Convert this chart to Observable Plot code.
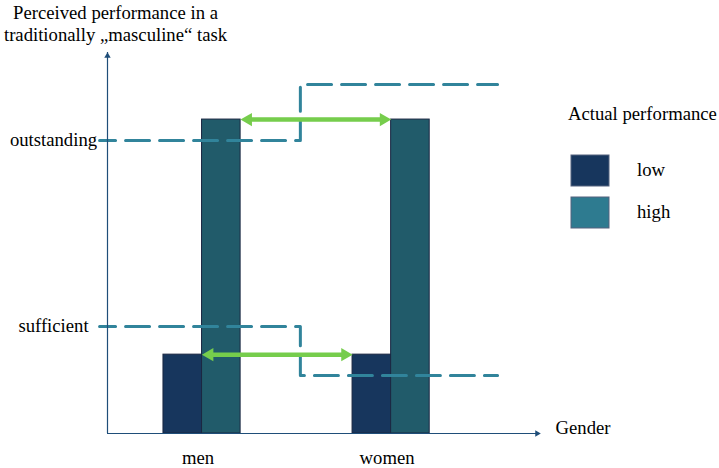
<!DOCTYPE html>
<html>
<head>
<meta charset="utf-8">
<script src="https://cdn.jsdelivr.net/npm/d3@7"></script>
<script src="https://cdn.jsdelivr.net/npm/@observablehq/plot@0.6"></script>
<style>
  body { margin: 0; background: #fff; }
  #chart { width: 719px; height: 468px; }
</style>
</head>
<body>
<div id="chart"></div>
<script>
// Groups on the x axis and actual performance levels
const genders = ["men", "women"];
const levels = ["low", "high"];
// Perceived performance of low / high actual performers (0–100 scale)
const barValues = [20.7, 82.4];
// Category labels on the y axis and the threshold each gender must reach
const thresholdNames = ["outstanding", "sufficient"];
const thresholdsMen = [76.9, 28.1];
const thresholdsWomen = [91.6, 15.2];
// Fills
const barColors = ["#17365d", "#215b6a"];
const legendColors = ["#17365d", "#2e7b90"];

const yTitle = "Perceived performance in a\ntraditionally \u201Emasculine\u201C task";
const xTitle = "Gender";
const legendTitle = "Actual performance";

const FONT = "'Liberation Serif', 'Times New Roman', serif";
const FS = 18.7;
const AXIS = "#1f4e79";
const DASH = "#31849b";
const GREEN = "#76cd4c";

// layout in x-scale units: gender i sits at i + 1
const xMin = 0.5, xMax = 2.79;
const barW = 0.204;
const stepX = 1.52, lineStart = 0.458, lineEnd = 2.563;

const bars = genders.flatMap((g, gi) =>
  levels.map((lv, li) => ({
    gender: g, level: lv,
    x1: gi + 1 - barW + li * barW,
    x2: gi + 1 + li * barW,
    value: barValues[li],
    color: barColors[li]
  }))
);

const thresholdLines = thresholdNames.flatMap((name, k) => [
  {name, x: lineStart, y: thresholdsMen[k]},
  {name, x: stepX, y: thresholdsMen[k]},
  {name, x: stepX, y: thresholdsWomen[k]},
  {name, x: lineEnd, y: thresholdsWomen[k]}
]);

// Double-headed arrows comparing men and women at the same actual level
const arrows = [
  {x1: 1 + barW, x2: 2, y: barValues[1]},
  {x1: 1, x2: 2 - barW, y: barValues[0]}
];

const tri = 7.5; // distance from triangle centre to tip (px)

const chart = Plot.plot({
  width: 719,
  height: 468,
  marginLeft: 107,
  marginRight: 179,
  marginTop: 52,
  marginBottom: 35,
  x: {domain: [xMin, xMax], axis: null},
  y: {domain: [0, 100], axis: null},
  style: {fontFamily: FONT, fontSize: FS + "px", color: "#000", background: "#fff", overflow: "visible"},
  marks: [
    Plot.rect(bars, {x1: "x1", x2: "x2", y1: 0, y2: "value", fill: "color", stroke: "#1b2742", strokeWidth: 1}),
    Plot.line(thresholdLines, {x: "x", y: "y", z: "name", stroke: DASH, strokeWidth: 3, strokeDasharray: "24,10", strokeDashoffset: 8, curve: "linear"}),
    // axes with arrow tips
    Plot.ruleX([xMin], {y1: 0, y2: 100, stroke: AXIS, strokeWidth: 1.2}),
    Plot.ruleY([0], {x1: xMin, x2: xMax, stroke: AXIS, strokeWidth: 1.2}),
    Plot.dot([xMin], {x: d => d, y: 100, symbol: "triangle", r: 2.4, fill: AXIS, dy: 3.4}),
    Plot.dot([xMax], {x: d => d, y: 0, symbol: "triangle", r: 2.4, fill: AXIS, rotate: 90, dx: -3.4}),
    // green comparison arrows
    Plot.arrow(arrows, {x1: "x1", x2: "x2", y1: "y", y2: "y", stroke: GREEN, strokeWidth: 4.5, headLength: 0, insetStart: 9, insetEnd: 9}),
    Plot.dot(arrows, {x: "x2", y: "y", symbol: "triangle", r: 4.9, fill: GREEN, rotate: 90, dx: -tri}),
    Plot.dot(arrows, {x: "x1", y: "y", symbol: "triangle", r: 4.9, fill: GREEN, rotate: -90, dx: tri}),
    // y category labels
    Plot.text(thresholdNames, {x: xMin, y: (d, i) => thresholdsMen[i], text: d => d, dx: -54, textAnchor: "middle", fontSize: FS, fill: "#000"}),
    // gender labels
    Plot.text(genders, {x: (d, i) => i + 1, y: 0, text: d => d, dy: 25, dx: -4, fontSize: FS, fill: "#000"}),
    // axis titles
    Plot.text([xTitle], {frameAnchor: "bottom-right", text: d => d, dx: 15, textAnchor: "start", fontSize: FS, fill: "#000"}),
    Plot.text([yTitle], {frameAnchor: "top-left", text: d => d, dx: 8, dy: -30, textAnchor: "middle", lineAnchor: "middle", lineHeight: 22 / FS, fontSize: FS, fill: "#000"})
  ]
});

// Legend for actual performance
const svg = d3.select(chart);
const lg = svg.append("g").attr("font-family", FONT).attr("font-size", FS).attr("text-anchor", "start");
lg.append("text").attr("x", 568).attr("y", 114).attr("dy", "0.32em").text(legendTitle);
levels.forEach((lv, i) => {
  const top = 155 + i * 42;
  lg.append("rect").attr("x", 571).attr("y", top).attr("width", 38).attr("height", 31)
    .attr("fill", legendColors[i]).attr("stroke", "#55627e").attr("stroke-width", 1);
  lg.append("text").attr("x", 637).attr("y", top + 15).attr("dy", "0.32em").text(lv);
});

document.getElementById("chart").append(chart);
</script>
</body>
</html>
